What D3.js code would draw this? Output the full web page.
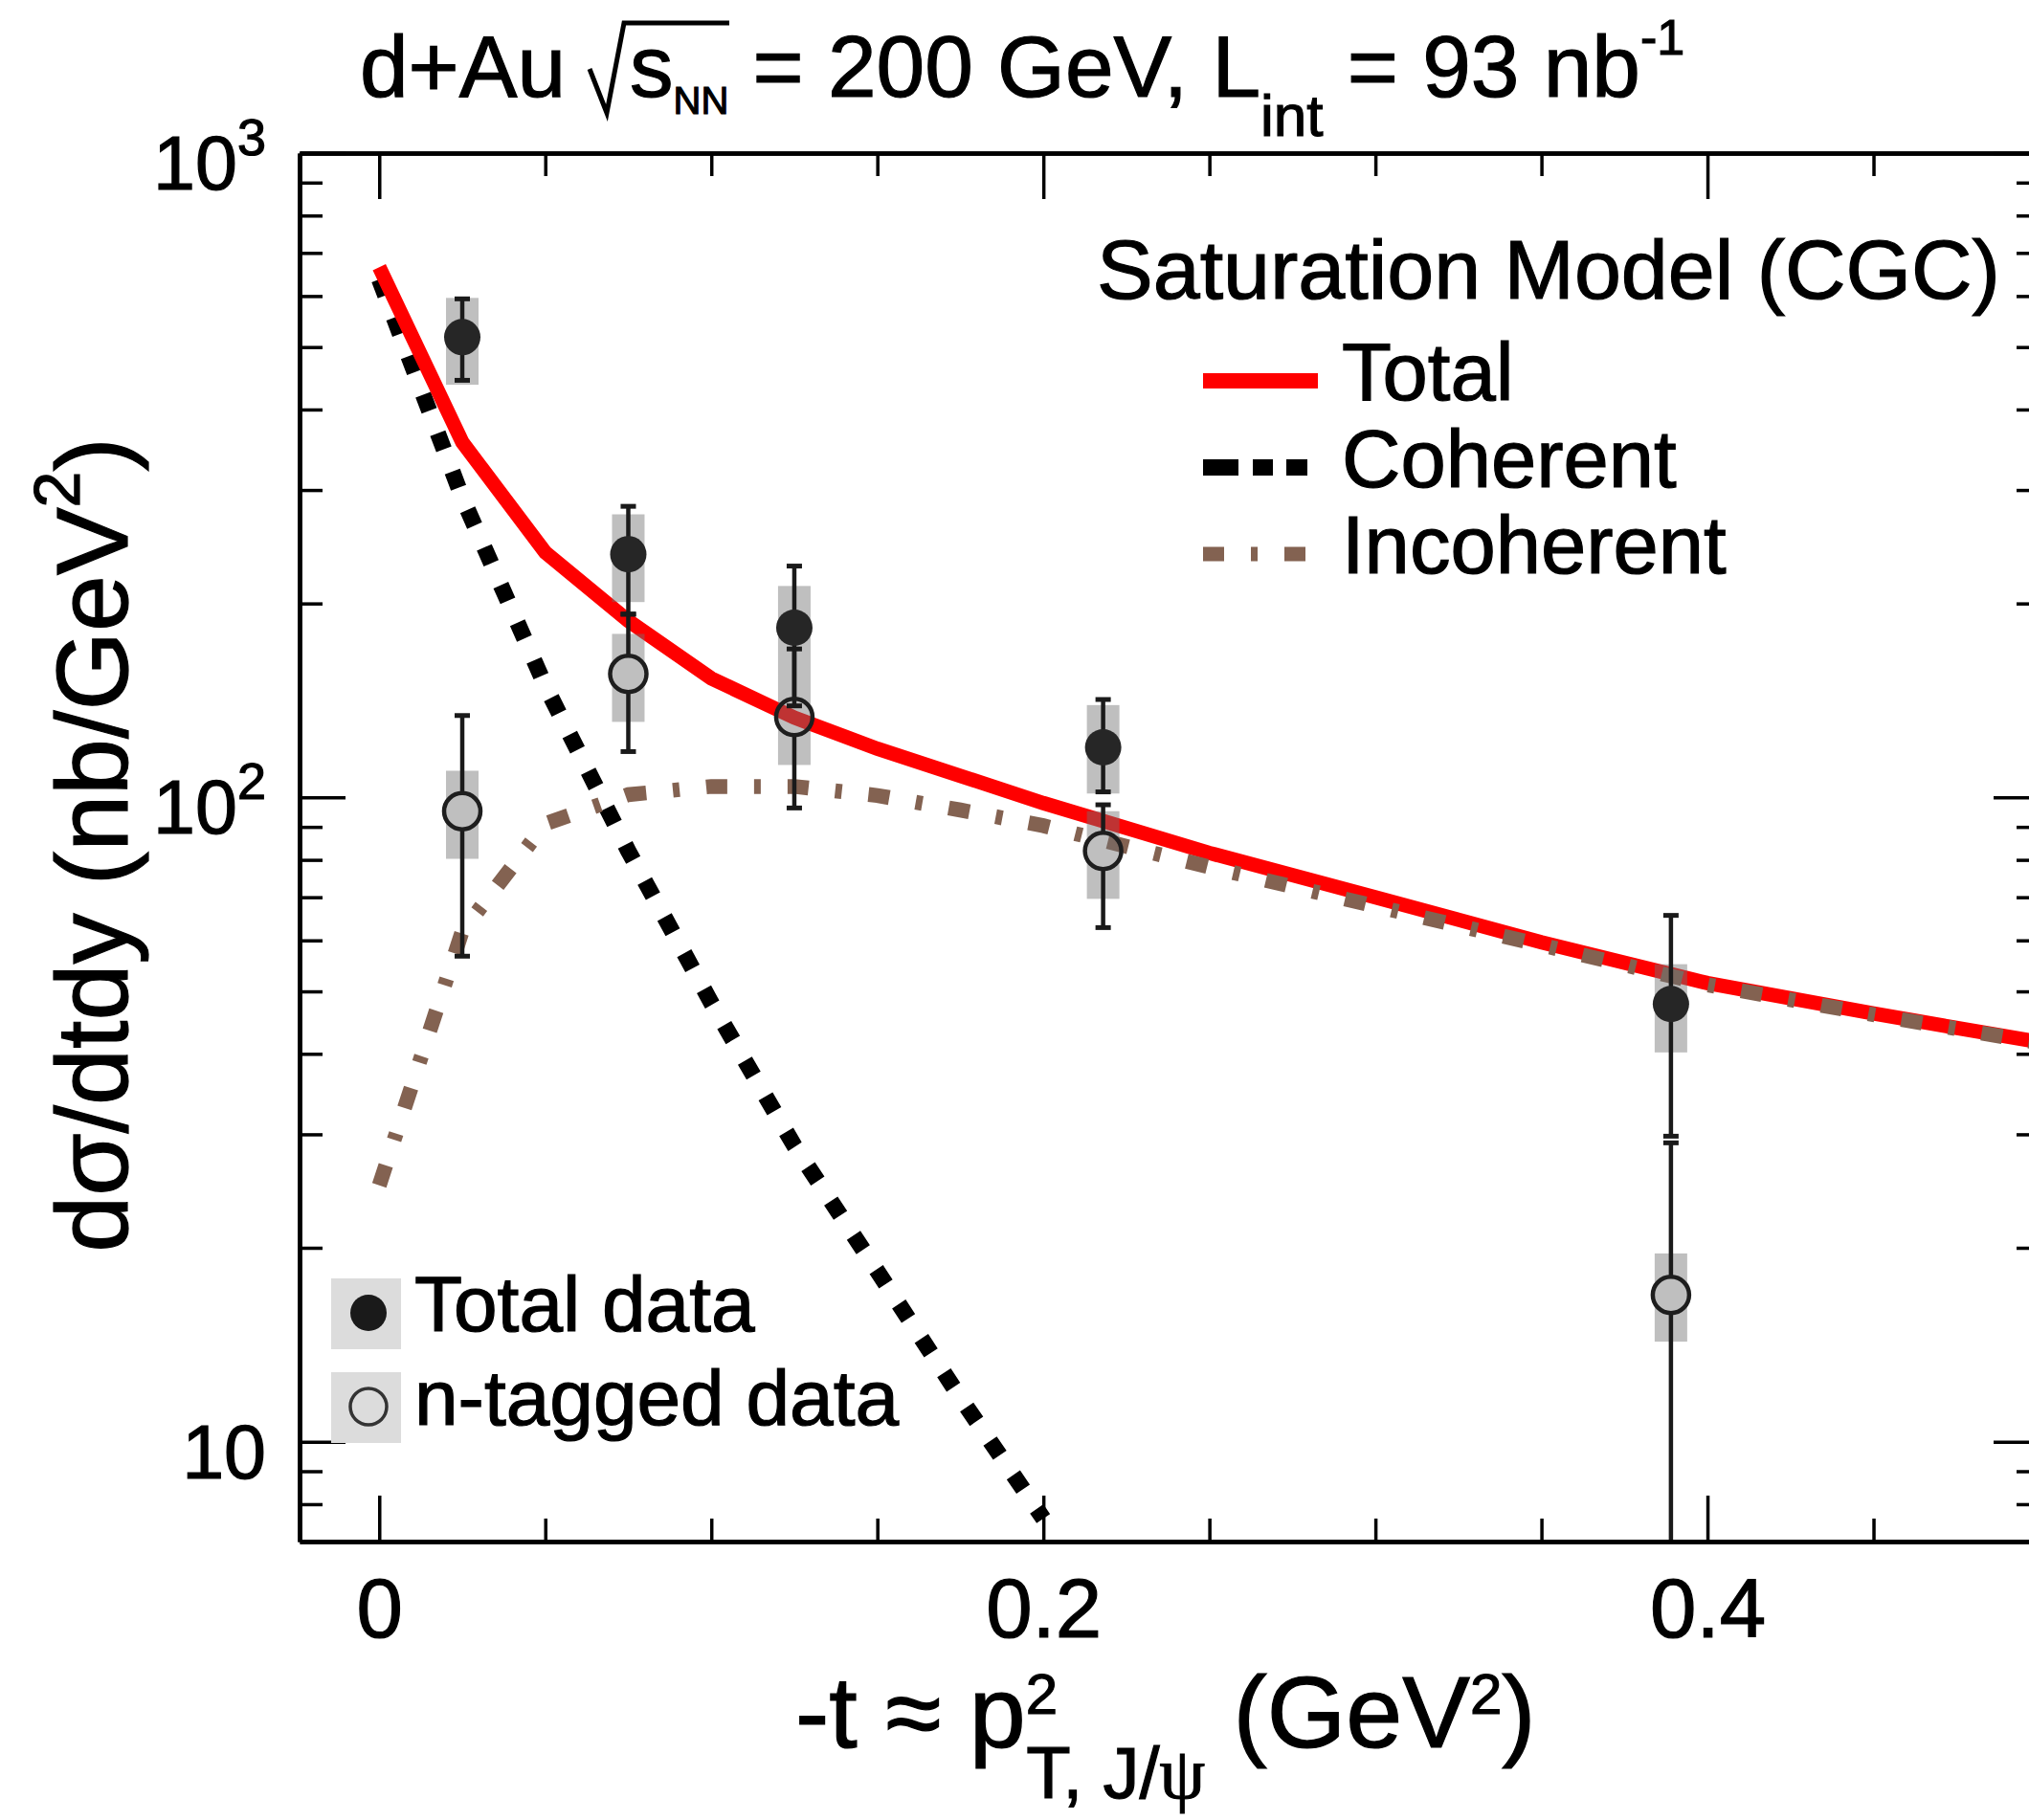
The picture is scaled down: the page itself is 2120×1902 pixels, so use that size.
<!DOCTYPE html>
<html>
<head>
<meta charset="utf-8">
<script src="https://d3js.org/d3.v7.min.js"></script>
<style>
  body { margin: 0; background: #fff; }
  svg { display: block; font-family: "Liberation Sans", Arial, sans-serif; }
  svg text { fill: #000; stroke: #000; stroke-width: 1.2; }
  .axis .domain { stroke: #000; stroke-width: 4.5; }
  .axis line { stroke: #000; stroke-width: 3.5; }
  .axis text { font-family: "Liberation Sans", Arial, sans-serif; }
</style>
</head>
<body>
<svg id="chart" width="2120" height="1902"></svg>
<script>
// measured points: -t bins and cross sections (nb/GeV^2)
const tBins = [0.025, 0.075, 0.125, 0.218, 0.389];
const totalVal = [518, 238.5, 183.4, 119.6, 47.8];
const totalStatLo = [444, 192.5, 138.7, 102, 29.8];
const totalStatHi = [594, 283, 228.6, 141.9, 65.6];
const totalSysLo = [437, 201, 154.6, 101.4, 40.2];
const totalSysHi = [596, 275, 212.9, 139.1, 55.1];
const tagVal = [95.2, 155.5, 133.3, 82.6, 16.9];
const tagStatLo = [56.7, 117.8, 96.3, 62.8, 4.7];
const tagStatHi = [134, 192.5, 170, 97.4, 29.1];
const tagSysLo = [80.3, 131, 112.3, 69.6, 14.3];
const tagSysHi = [110, 179.4, 154.6, 95.2, 19.6];

// saturation model curves
const modelT = [0, 0.025, 0.05, 0.075, 0.1, 0.125, 0.15, 0.175, 0.2, 0.25, 0.3, 0.35, 0.4, 0.45, 0.5];
const modelTotal = [665, 356, 240, 188, 153, 133, 119, 108, 98, 82, 70, 59.6, 51.5, 46.2, 41.7];
const modelIncoh = [25, 62, 91, 101, 104, 104, 100.7, 95.6, 90.4, 78, 67.8, 59, 51.2, 46, 41.6];
const cohT = [0, 0.025, 0.05, 0.075, 0.1, 0.125, 0.15, 0.175, 0.2];
const modelCoh = [637, 292, 149, 82.6, 48, 28.8, 18.4, 11.7, 7.6];

// ticks
const xMajor = [0, 0.2, 0.4];
const xMinor = [0.05, 0.1, 0.15, 0.25, 0.3, 0.35, 0.45];
const yMajor = [10, 100, 1000];
const yMinor = [8, 9, 20, 30, 40, 50, 60, 70, 80, 90, 200, 300, 400, 500, 600, 700, 800, 900];
const yLabelExp = ["", "2", "3"];

const legendNames = ["Total", "Coherent", "Incoherent"];
const dataNames = ["Total data", "n-tagged data"];

const svg = d3.select("#chart");
const x = d3.scaleLinear().domain([-0.024, 0.5]).range([313, 2131]);
const y = d3.scaleLog().domain([7, 1000]).range([1611, 160]);

svg.append("rect").attr("width", 2120).attr("height", 1902).attr("fill", "#fff");

svg.append("clipPath").attr("id", "plotclip")
  .append("rect").attr("x", 313).attr("y", 160).attr("width", 1818).attr("height", 1451);

const plot = svg.append("g").attr("clip-path", "url(#plotclip)");
const line = d3.line().x(d => x(d[0])).y(d => y(d[1]));

// coherent
plot.append("path")
  .datum(cohT.map((t, i) => [t, modelCoh[i]]))
  .attr("d", line).attr("fill", "none")
  .attr("stroke", "#000").attr("stroke-width", 17)
  .attr("stroke-dasharray", "18,25");
// total
plot.append("path")
  .datum(modelT.map((t, i) => [t, modelTotal[i]]))
  .attr("d", line).attr("fill", "none")
  .attr("stroke", "#ff0000").attr("stroke-width", 15);
// incoherent
plot.append("path")
  .datum(modelT.map((t, i) => [t, modelIncoh[i]]))
  .attr("d", line).attr("fill", "none")
  .attr("stroke", "#836251").attr("stroke-width", 15.5)
  .attr("stroke-dasharray", "22,28,7,28");

// systematic boxes
function sysBoxes(lo, hi) {
  plot.append("g").selectAll("rect").data(tBins).enter().append("rect")
    .attr("x", d => x(d) - 17)
    .attr("y", (d, i) => y(hi[i]))
    .attr("width", 34)
    .attr("height", (d, i) => y(lo[i]) - y(hi[i]))
    .attr("fill", "rgb(112,112,112)")
    .attr("fill-opacity", 0.45);
}
sysBoxes(totalSysLo, totalSysHi);
sysBoxes(tagSysLo, tagSysHi);

// stat error bars
const R = 19;
function statBars(val, lo, hi, gap) {
  const g = plot.append("g").attr("stroke", "#1a1a1a");
  tBins.forEach((t, i) => {
    const cx = x(t);
    if (gap) {
      g.append("line").attr("x1", cx).attr("x2", cx).attr("y1", y(hi[i])).attr("y2", y(val[i]) - R).attr("stroke-width", 4.5);
      g.append("line").attr("x1", cx).attr("x2", cx).attr("y1", y(val[i]) + R).attr("y2", y(lo[i])).attr("stroke-width", 4.5);
    } else {
      g.append("line").attr("x1", cx).attr("x2", cx).attr("y1", y(hi[i])).attr("y2", y(lo[i])).attr("stroke-width", 4.5);
    }
    [hi[i], lo[i]].forEach(v => {
      g.append("line").attr("x1", cx - 8).attr("x2", cx + 8).attr("y1", y(v)).attr("y2", y(v)).attr("stroke-width", 5);
    });
  });
}
statBars(totalVal, totalStatLo, totalStatHi, false);
statBars(tagVal, tagStatLo, tagStatHi, true);

// markers
plot.append("g").selectAll("circle").data(tagVal).enter().append("circle")
  .attr("cx", (d, i) => x(tBins[i])).attr("cy", d => y(d)).attr("r", R)
  .attr("fill", "none").attr("stroke", "#1e1e1e").attr("stroke-width", 4.5);
plot.append("g").selectAll("circle").data(totalVal).enter().append("circle")
  .attr("cx", (d, i) => x(tBins[i])).attr("cy", d => y(d)).attr("r", R)
  .attr("fill", "#262626");

// axes
function addAxis(gen, tr) {
  svg.append("g").attr("class", "axis").attr("transform", tr).call(gen);
}
addAxis(d3.axisBottom(x).tickValues(xMajor).tickSize(-48).tickSizeOuter(0).tickPadding(38)
  .tickFormat(d => d === 0 ? "0" : d3.format(".1f")(d)), "translate(0,1611)");
addAxis(d3.axisBottom(x).tickValues(xMinor).tickSize(-24).tickSizeOuter(0).tickFormat(""), "translate(0,1611)");
addAxis(d3.axisTop(x).tickValues(xMajor).tickSize(-48).tickSizeOuter(0).tickFormat(""), "translate(0,160)");
addAxis(d3.axisTop(x).tickValues(xMinor).tickSize(-24).tickSizeOuter(0).tickFormat(""), "translate(0,160)");
addAxis(d3.axisLeft(y).tickValues(yMajor).tickSize(-48).tickSizeOuter(0).tickFormat(""), "translate(313,0)");
addAxis(d3.axisLeft(y).tickValues(yMinor).tickSize(-24).tickSizeOuter(0).tickFormat(""), "translate(313,0)");
addAxis(d3.axisRight(y).tickValues(yMajor).tickSize(-48).tickSizeOuter(0).tickFormat(""), "translate(2131,0)");
addAxis(d3.axisRight(y).tickValues(yMinor).tickSize(-24).tickSizeOuter(0).tickFormat(""), "translate(2131,0)");
svg.selectAll(".axis text").attr("font-size", 87).attr("fill", "#000");

// y tick labels 10^n
yMajor.forEach((v, i) => {
  const t = svg.append("text").attr("x", 278).attr("y", y(v) + 38)
    .attr("text-anchor", "end").attr("font-size", 79).text("10");
  if (yLabelExp[i]) t.append("tspan").attr("font-size", 54).attr("dy", -36).text(yLabelExp[i]);
});

// title
const title = svg.append("text").attr("x", 376).attr("y", 101).attr("font-size", 91);
title.append("tspan").text("d+Au");
title.append("tspan").attr("x", 658).text("s");
title.append("tspan").attr("font-size", 40).attr("dy", 18).text("NN");
title.append("tspan").attr("font-size", 91).attr("dy", -18).text(" = 200 GeV, L");
title.append("tspan").attr("font-size", 62).attr("dy", 41).text("int");
title.append("tspan").attr("font-size", 91).attr("dy", -41).text(" = 93 nb");
title.append("tspan").attr("font-size", 52).attr("dy", -44).text("-1");
svg.append("path").attr("d", "M616,72 L634,118 L652,24 L762,24")
  .attr("fill", "none").attr("stroke", "#000").attr("stroke-width", 5);

// axis titles
const yl = svg.append("text").attr("transform", "translate(133,883) rotate(-90)")
  .attr("text-anchor", "middle").attr("font-size", 106);
yl.append("tspan").text("d\u03c3/dtdy (nb/GeV");
yl.append("tspan").attr("font-size", 68).attr("dy", -50).text("2");
yl.append("tspan").attr("font-size", 106).attr("dy", 50).text(")");

const xl = svg.append("text").attr("x", 831).attr("y", 1826).attr("font-size", 106);
xl.append("tspan").text("-t \u2248 p");
xl.append("tspan").attr("font-size", 60).attr("dy", -35).text("2");
const sub = xl.append("tspan").attr("font-size", 76).attr("dx", -33).attr("dy", 88);
sub.append("tspan").text("T, J/");
sub.append("tspan").attr("font-family", "Liberation Serif, serif").text("\u03c8");
xl.append("tspan").attr("font-size", 106).attr("dy", -53).attr("font-family", "Liberation Sans, Arial, sans-serif").text(" (GeV");
xl.append("tspan").attr("font-size", 60).attr("dy", -35).text("2");
xl.append("tspan").attr("font-size", 106).attr("dy", 35).text(")");

// model legend
svg.append("text").attr("x", 1146).attr("y", 312).attr("font-size", 88).text("Saturation Model (CGC)");
const legStyles = [
  { stroke: "#ff0000", w: 16, dash: null, x2: 1377 },
  { stroke: "#000", w: 17, dash: "37,15,21,14,22", x2: 1366 },
  { stroke: "#836251", w: 15, dash: "22,28,7,28", x2: 1366 }
];
legendNames.forEach((name, i) => {
  const ly = 398 + i * 90.5;
  const s = legStyles[i];
  svg.append("line").attr("x1", 1257).attr("x2", s.x2).attr("y1", ly).attr("y2", ly)
    .attr("stroke", s.stroke).attr("stroke-width", s.w)
    .attr("stroke-dasharray", s.dash);
  svg.append("text").attr("x", 1402).attr("y", ly + 20).attr("font-size", 85).text(name);
});

// data legend
dataNames.forEach((name, i) => {
  const cy = 1372 + i * 98;
  svg.append("rect").attr("x", 346).attr("y", cy - 36).attr("width", 73).attr("height", 74).attr("fill", "#dcdcdc");
  if (i === 0) {
    svg.append("circle").attr("cx", 385).attr("cy", cy).attr("r", R).attr("fill", "#1a1a1a");
  } else {
    svg.append("circle").attr("cx", 385).attr("cy", cy).attr("r", 19).attr("fill", "none")
      .attr("stroke", "#333").attr("stroke-width", 3.5);
  }
  svg.append("text").attr("x", 433).attr("y", cy + 19).attr("font-size", 82).text(name);
});
</script>
</body>
</html>
